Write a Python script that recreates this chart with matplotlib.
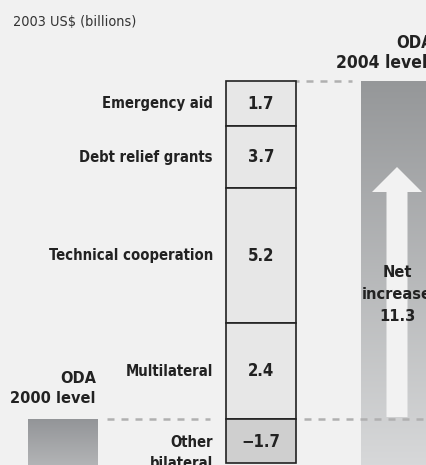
import numpy as np
import matplotlib.pyplot as plt
from matplotlib.colors import LinearSegmentedColormap

plt.rcParams['font.family'] = ['DejaVu Sans']
plt.rcParams['font.stretch'] = 'condensed'

# data
components = ["Emergency aid", "Debt relief grants", "Technical cooperation",
              "Multilateral", "Other\nbilateral"]
values = [1.7, 3.7, 5.2, 2.4, -1.7]
value_labels = ["1.7", "3.7", "5.2", "2.4", "\u22121.7"]
net_increase = 11.3
unit_label = "2003 US$ (billions)"

# the segments are not drawn to scale in the original, so heights are layout
seg_heights = [45, 62, 135, 96, 44]
seg_top = 81
base_y = 419

bg = '#f1f1f1'
fig = plt.figure(figsize=(4.27, 4.65), dpi=100, facecolor=bg)
ax = fig.add_axes([0, 0, 1, 1])
ax.set_facecolor(bg)
ax.axis('off')

# gradient bars (ODA 2000 / ODA 2004)
def grad_bar(x0, x1, top, bottom, c_top, c_bot):
    bar = ax.bar(x0, bottom - top, width=x1 - x0, bottom=top, align='edge',
                 color='none', edgecolor='none')[0]
    cmap = LinearSegmentedColormap.from_list('g', [c_top, c_bot])
    grad = np.linspace(0, 1, 256).reshape(-1, 1)
    im = ax.imshow(grad, cmap=cmap, extent=(x0, x1, bottom, top),
                   aspect='auto', zorder=1)
    im.set_clip_path(bar)

grad_bar(28, 98, base_y, 470, '#939598', '#b6b7b9')
grad_bar(361, 440, seg_top, 470, '#959799', '#d8d9da')
ax.set_xlim(0, 427)
ax.set_ylim(465, 0)

# arrow inside ODA 2004 bar
ax.arrow(397, 417, 0, -(417 - 167), width=21, head_width=50, head_length=25,
         length_includes_head=True, fc='#f2f2f2', ec='none', zorder=2)

# dashed guides
dash = dict(color='#b0b0b0', lw=1.8, ls=(0, (2.8, 2.8)), zorder=3)
ax.plot([292, 352], [seg_top, seg_top], **dash)
ax.plot([107, 210], [base_y, base_y], **dash)
ax.plot([304, 430], [base_y, base_y], **dash)

txt = dict(fontweight='bold', color='#222222', zorder=5)

# stacked component column
y = seg_top
for i, (name, lab, h) in enumerate(zip(components, value_labels, seg_heights)):
    fc = '#cfcfcf' if values[i] < 0 else '#e7e7e7'
    ax.bar(226, h, width=70, bottom=y, align='edge', color=fc,
           edgecolor='#222222', linewidth=1.2, zorder=4)
    cy = y + h / 2
    if i == 4:
        cy = y + 23
        ax.text(213, cy, "Other", ha='right', va='center', fontsize=10.6, **txt)
        ax.text(213, cy + 21, "bilateral", ha='right', va='center',
                fontsize=10.6, **txt)
    else:
        ax.text(213, cy, name, ha='right', va='center', fontsize=10.6, **txt)
    ax.text(261, cy, lab, ha='center', va='center', fontsize=12, **txt)
    y += h

# titles / labels
ax.text(13, 22, unit_label, ha='left', va='center', fontsize=10.4,
        color='#333333')
ax.text(96, 378, "ODA", ha='right', va='center', fontsize=11.7, **txt)
ax.text(96, 398, "2000 level", ha='right', va='center', fontsize=11.7, **txt)
ax.text(396, 43, "ODA", ha='left', va='center', fontsize=12, **txt)
ax.text(336, 63, "2004 level", ha='left', va='center', fontsize=12.5, **txt)
ax.text(397, 272, "Net", ha='center', va='center', fontsize=11.7, **txt)
ax.text(397, 294, "increase", ha='center', va='center', fontsize=11.7, **txt)
ax.text(397, 316, "%.1f" % net_increase, ha='center', va='center',
        fontsize=11.7, **txt)

plt.savefig('out.png', dpi=100, facecolor=bg)
